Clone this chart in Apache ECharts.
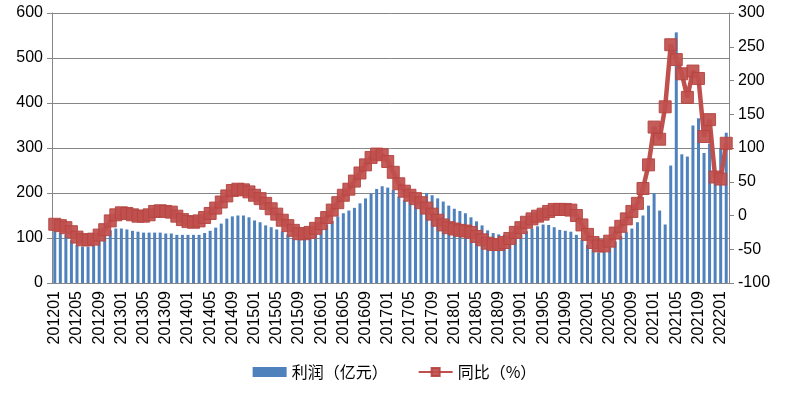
<!DOCTYPE html>
<html><head><meta charset="utf-8">
<script src="https://cdn.jsdelivr.net/npm/echarts@6/dist/echarts.min.js"></script>
<style>html,body{margin:0;padding:0;background:#fff}#c{width:789px;height:394px}</style>
</head><body><div id="c"></div>
<script>
// months 201201 .. 202202
const months = [];
for (let y = 2012; y <= 2022; y++) for (let m = 1; m <= 12; m++) { if (y === 2022 && m > 2) break; months.push(String(y) + (m < 10 ? '0' + m : m)); }

const profit = [
118,112,108,95,85,81,81,84,93,106,117,121,
121,119,116,114,112,112,112,112,110,110,107,107,
107,107,107,111,116,123,132,143,148,150,150,146,
139,135,128,124,119,115,108,101,97,97,99,109,
119,130,138,148,155,161,167,177,188,199,209,215,
212,207,192,184,180,176,174,200,195,188,181,172,
165,160,155,146,137,128,117,111,108,107,105,104,
108,115,121,126,130,129,124,118,116,114,107,96,
85,75,68,70,79,92,104,113,121,135,150,172,
200,161,130,261,557,286,281,350,366,289,310,230,
300,334];

const yoy = [
-13,-15,-18,-24,-32,-36,-36,-35,-29,-21,-8,1,
4,3,1,-1,-1,1,6,7,6,5,-1,-6,
-9,-10,-8,-3,3,11,20,29,37,39,38,35,
30,25,18,10,2,-7,-15,-22,-27,-27,-25,-19,
-12,-3,8,19,30,39,51,63,75,86,91,90,
80,64,47,36,30,25,19,11,2,-7,-14,-18,
-20,-22,-23,-25,-31,-36,-41,-43,-43,-40,-34,-25,
-18,-10,-5,-1,2,6,9,9,9,8,0,-14,
-28,-40,-45,-45,-38,-26,-16,-5,6,18,40,75,
131,113,161,253,231,210,175,214,203,117,142,57,
54,107];

const leftTicks = {min: 0, max: 600, interval: 100};
const rightTicks = {min: -100, max: 300, interval: 50};

const gray = '#868686';
const font = 'Liberation Sans, Arial, sans-serif';
const chart = echarts.init(document.getElementById('c'), null, {renderer: 'canvas'});
chart.setOption({
  animation: false,
  backgroundColor: '#fff',
  grid: {left: 52, right: 60, top: 13, bottom: 111, containLabel: false},
  legend: {
    bottom: 9, left: 'center', itemGap: 30, itemWidth: 34, itemHeight: 10,
    textStyle: {fontSize: 16, color: '#000', fontFamily: 'Noto Sans CJK SC'},
    data: [
      {name: '利润（亿元）', icon: 'rect'},
      {name: '同比（%）'}
    ]
  },
  xAxis: {
    type: 'category', data: months, boundaryGap: true,
    axisLine: {lineStyle: {color: gray, width: 1}},
    axisTick: {interval: 0, length: 5, lineStyle: {color: gray}},
    axisLabel: {interval: 3, rotate: 90, margin: 8, fontSize: 16, color: '#000', fontFamily: font}
  },
  yAxis: [
    {type: 'value', min: leftTicks.min, max: leftTicks.max, interval: leftTicks.interval,
     axisLine: {show: true, lineStyle: {color: gray}},
     axisTick: {show: true, length: 5, lineStyle: {color: gray}},
     splitLine: {lineStyle: {color: gray, width: 1}},
     axisLabel: {fontSize: 16, color: '#000', margin: 9, fontFamily: font}},
    {type: 'value', min: rightTicks.min, max: rightTicks.max, interval: rightTicks.interval,
     axisLine: {show: true, lineStyle: {color: gray}},
     axisTick: {show: true, length: 5, lineStyle: {color: gray}},
     splitLine: {show: false},
     axisLabel: {fontSize: 16, color: '#000', margin: 9, fontFamily: font}}
  ],
  series: [
    {name: '利润（亿元）', type: 'bar', data: profit, yAxisIndex: 0, barWidth: 3,
     itemStyle: {color: '#4F81BD'}, z: 2},
    {name: '同比（%）', type: 'line', data: yoy, yAxisIndex: 1,
     symbol: 'rect', symbolSize: 12, showAllSymbol: true,
     lineStyle: {color: '#C0504D', width: 4.5},
     itemStyle: {color: '#C0504D', borderColor: '#B54542', borderWidth: 1, opacity: 0.93}, z: 3}
  ]
});
</script></body></html>
